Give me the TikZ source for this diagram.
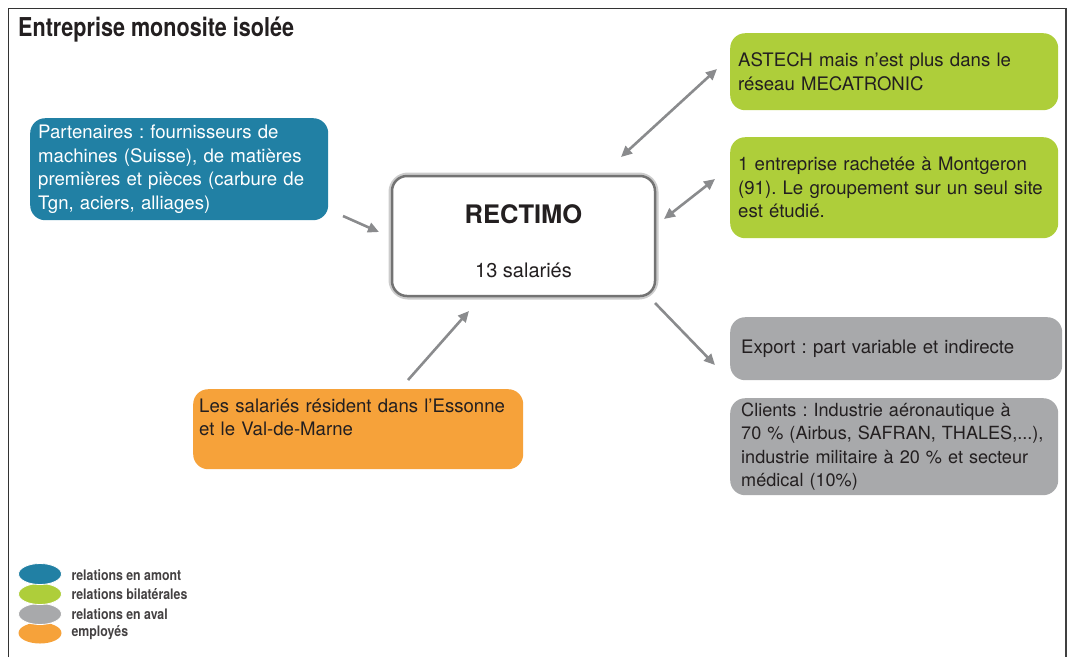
\documentclass[tikz,border=0pt]{standalone}
\usepackage{fontspec}
\setmainfont{TeX Gyre Heros}
\newfontfamily\condf[FakeStretch=0.83]{TeX Gyre Heros}
\newfontfamily\condl[FakeStretch=0.85]{TeX Gyre Heros}
\usetikzlibrary{arrows.meta,shapes.geometric}
\definecolor{cblue}{HTML}{2180A4}
\definecolor{cgreen}{HTML}{AECE3A}
\definecolor{cgray}{HTML}{A8A9AB}
\definecolor{corange}{HTML}{F6A23A}
\definecolor{ctext}{HTML}{231F20}
\definecolor{carrow}{HTML}{8A8B8D}
\tikzset{
  box/.style={rounded corners=15pt, anchor=north west, inner xsep=8pt, inner ysep=4pt,
    align=left, font=\frenchspacing\fontsize{18.6}{23.6}\selectfont, text=ctext},
  conn/.style={draw=carrow, line width=2.6pt, -{Triangle[length=11pt,width=10pt]}},
  biconn/.style={draw=carrow, line width=2.6pt, {Triangle[length=11pt,width=10pt]}-{Triangle[length=11pt,width=10pt]}},
  legdot/.style={ellipse, minimum width=43pt, minimum height=21pt, inner sep=0pt},
  legtxt/.style={anchor=west, font=\condl\bfseries\fontsize{14.5}{16}\selectfont, text=ctext!85},
}
\begin{document}
\begin{tikzpicture}[x=1pt,y=-1pt]
\useasboundingbox (0,0) rectangle (1070,657);
% frame
\draw[line width=1pt, black!80] (8,657) -- (8,8) -- (1066,8);
\draw[line width=2.5pt, black!75] (1066,8) -- (1066,657);
% title
\node[anchor=west, inner xsep=0pt, font=\condf\bfseries\fontsize{26}{30}\selectfont, text=ctext] (title) at (18,30) {Entreprise monosite isolée};
% blue box
\node[box, fill=cblue, text=white, minimum width=298pt, minimum height=102pt, text width=282pt] (blue) at (30,118)
 {Partenaires : fournisseurs de\\machines (Suisse), de matières\\premières et pièces (carbure de\\Tgn, aciers, alliages)};
% center
\node[rounded corners=16pt, draw=black!20, line width=7pt, minimum width=263pt, minimum height=120pt] (cshadow) at (523.5,236) {};
\node[rounded corners=15pt, draw=black!55, line width=2.5pt, fill=white, minimum width=263pt, minimum height=120pt] (center) at (523.5,236) {};
\node[font=\bfseries\fontsize{25.5}{28}\selectfont, text=ctext] (ctitle) at ([yshift=22pt]center.center) {RECTIMO};
\node[font=\fontsize{20}{24}\selectfont, text=ctext] (csub) at ([yshift=-34pt]center.center) {13 salariés};
% green boxes
\node[box, fill=cgreen, minimum width=328pt, minimum height=77pt, text width=312pt] (g1) at (730,33)
 {ASTECH mais n’est plus dans le\\réseau MECATRONIC};
\node[box, fill=cgreen, minimum width=328pt, minimum height=101pt, text width=312pt] (g2) at (730,137)
 {1 entreprise rachetée à Montgeron\\(91). Le groupement sur un seul site\\est étudié.};
% gray boxes
\node[box, fill=cgray, minimum width=328pt, minimum height=63pt, text width=310pt, inner xsep=11pt] (gr1) at (730,317)
 {Export : part variable et indirecte};
\node[box, fill=cgray, minimum width=328pt, minimum height=97pt, text width=306pt, inner xsep=11pt,
  font=\frenchspacing\fontsize{18.1}{23.6}\selectfont] (gr2) at (730,398)
 {\mbox{Clients : Industrie aéronautique à}\\\mbox{70 \% (Airbus, SAFRAN, THALES,...),}\\\mbox{industrie militaire à 20 \% et secteur}\\\mbox{médical (10\%)}};
% orange box
\node[box, fill=corange, minimum width=330pt, minimum height=80pt, text width=318pt, inner xsep=6pt] (or) at (193,389)
 {Les salariés résident dans l’Essonne\\et le Val-de-Marne\\\mbox{}};
% connector coordinates
\coordinate (bS) at (343,216);
\coordinate (bE) at (379,232);
\coordinate (oS) at (408,380);
\coordinate (oE) at (469,311);
\coordinate (g1A) at (621,157);
\coordinate (g1B) at (717,69);
\coordinate (g2A) at (664,219);
\coordinate (g2B) at (715,179);
\coordinate (grA) at (655,303);
\coordinate (grB) at (715,365);
\draw[conn] (bS) -- (bE);
\draw[conn] (oS) -- (oE);
\draw[biconn] (g1A) -- (g1B);
\draw[biconn] (g2A) -- (g2B);
\draw[conn] (grA) -- (grB);
% legend
\node[legdot, fill=corange] (l4) at (40,633) {};
\node[legdot, fill=cgray, draw=white, line width=0.8pt] (l3) at (40,614) {};
\node[legdot, fill=cgreen, draw=white, line width=0.8pt] (l2) at (40,594) {};
\node[legdot, fill=cblue, draw=white, line width=0.8pt] (l1) at (40,574) {};
\node[legtxt] (t1) at (68,575) {relations en amont};
\node[legtxt] (t2) at (68,594) {relations bilatérales};
\node[legtxt] (t3) at (68,614) {relations en aval};
\node[legtxt] (t4) at (68,633) {employés};
\end{tikzpicture}
\end{document}
